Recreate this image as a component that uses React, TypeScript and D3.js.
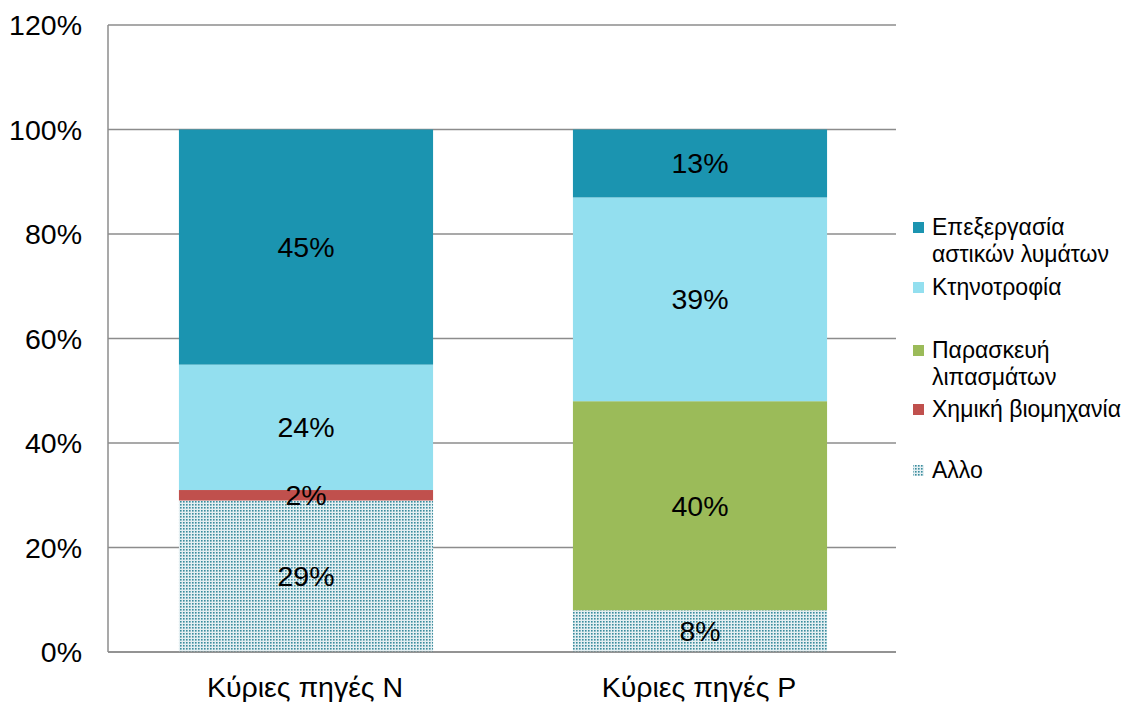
import React from "react";
import * as d3 from "d3";

const categories = ["Κύριες πηγές N", "Κύριες πηγές P"];
const seriesNames = [
  "Αλλο",
  "Χημική βιομηχανία",
  "Παρασκευή λιπασμάτων",
  "Κτηνοτροφία",
  "Επεξεργασία αστικών λυμάτων",
];
// values per series: [N, P]
const alloValues = [29, 8];
const chemicalValues = [2, 0];
const fertilizerValues = [0, 40];
const livestockValues = [24, 39];
const wastewaterValues = [45, 13];
const yTicks = [0, 20, 40, 60, 80, 100, 120];

const legendItems = [
  { key: "Επεξεργασία αστικών λυμάτων", lines: ["Επεξεργασία", "αστικών λυμάτων"], y: 235 },
  { key: "Κτηνοτροφία", lines: ["Κτηνοτροφία"], y: 295 },
  { key: "Παρασκευή λιπασμάτων", lines: ["Παρασκευή", "λιπασμάτων"], y: 358 },
  { key: "Χημική βιομηχανία", lines: ["Χημική βιομηχανία"], y: 417 },
  { key: "Αλλο", lines: ["Αλλο"], y: 478 },
];

const colors: Record<string, string> = {
  "Αλλο": "url(#dots)",
  "Χημική βιομηχανία": "#C0504D",
  "Παρασκευή λιπασμάτων": "#9BBB59",
  "Κτηνοτροφία": "#93DFEF",
  "Επεξεργασία αστικών λυμάτων": "#1B94B0",
};

const FONT = "'Liberation Sans', Arial, sans-serif";
const FS = 28.5;

export default function App() {
  const W = 1134;
  const H = 702;
  const left = 108, right = 896, top = 25, bottom = 652;

  const allValues = [alloValues, chemicalValues, fertilizerValues, livestockValues, wastewaterValues];
  const data = categories.map((c, i) => {
    const row: any = { cat: c };
    seriesNames.forEach((s, j) => (row[s] = allValues[j][i]));
    return row;
  });
  const stack = d3.stack<any>().keys(seriesNames)(data);

  const x = d3.scaleBand<string>().domain(categories).range([left, right]).paddingInner(0.355).paddingOuter(0.1775);
  const y = d3.scaleLinear().domain([0, 120]).range([bottom, top]);

  return (
    <svg width={W} height={H} style={{ position: "absolute", left: 0, top: 0, background: "#fff" }}>
      <defs>
        <pattern id="dots" width={3} height={3} patternUnits="userSpaceOnUse">
          <rect width={3} height={3} fill="#E4EFF2" />
          <rect x={0} y={0} width={1.6} height={1.6} fill="#3A8C9D" />
        </pattern>
      </defs>
      {yTicks.map((t) => (
        <line key={t} x1={left} x2={right} y1={y(t)} y2={y(t)} stroke="#8C8C8C" strokeWidth={1.5} />
      ))}
      {stack.map((layer) =>
        layer.map((d, i) => {
          if (d[1] - d[0] <= 0) return null;
          return (
            <rect
              key={layer.key + i}
              x={(x(categories[i]) as number) + 1}
              width={x.bandwidth()}
              y={y(d[1])}
              height={y(d[0]) - y(d[1])}
              fill={colors[layer.key]}
            />
          );
        })
      )}
      <line x1={left} x2={left} y1={top} y2={bottom} stroke="#8C8C8C" strokeWidth={1.5} />
      <line x1={left} x2={right} y1={bottom} y2={bottom} stroke="#8C8C8C" strokeWidth={1.5} />
      {stack.map((layer) =>
        layer.map((d, i) => {
          const v = d[1] - d[0];
          if (v <= 0) return null;
          return (
            <text
              key={"l" + layer.key + i}
              x={(x(categories[i]) as number) + x.bandwidth() / 2 + 1}
              y={(y(d[0]) + y(d[1])) / 2 + 10}
              textAnchor="middle"
              fontFamily={FONT}
              fontSize={FS}
              fill="#000"
            >
              {v}%
            </text>
          );
        })
      )}
      {yTicks.map((t) => (
        <text key={"t" + t} x={82} y={y(t) + 10} textAnchor="end" fontFamily={FONT} fontSize={FS} fill="#000">
          {t}%
        </text>
      ))}
      {categories.map((c) => (
        <text
          key={c}
          x={(x(c) as number) + x.bandwidth() / 2}
          y={697}
          textAnchor="middle"
          fontFamily={FONT}
          fontSize={FS}
          fill="#000"
        >
          {c}
        </text>
      ))}
      {legendItems.map((it) => (
        <g key={it.key}>
          <rect x={913} y={it.y - 13} width={11} height={11} fill={colors[it.key]} />
          {it.lines.map((ln, k) => (
            <text key={k} x={932} y={it.y + k * 27} fontFamily={FONT} fontSize={23} fill="#000">
              {ln}
            </text>
          ))}
        </g>
      ))}
    </svg>
  );
}
